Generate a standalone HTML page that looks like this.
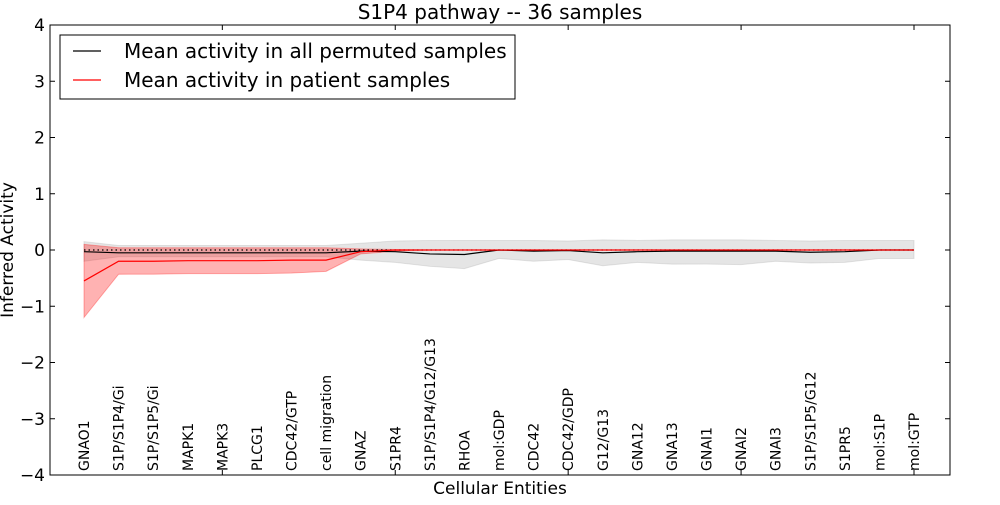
<!DOCTYPE html>
<html><head><meta charset="utf-8"><style>
body{margin:0;background:#fff;width:1000px;height:500px;overflow:hidden}
text{font-family:"DejaVu Sans","Liberation Sans",sans-serif}
</style></head><body>
<svg id="chart" width="1000" height="500" xmlns="http://www.w3.org/2000/svg"></svg>
<script>
const categories=["GNAO1","S1P/S1P4/Gi","S1P/S1P5/Gi","MAPK1","MAPK3","PLCG1","CDC42/GTP","cell migration","GNAZ","S1PR4","S1P/S1P4/G12/G13","RHOA","mol:GDP","CDC42","CDC42/GDP","G12/G13","GNA12","GNA13","GNAI1","GNAI2","GNAI3","S1P/S1P5/G12","S1PR5","mol:S1P","mol:GTP"];
const permMean=[-0.03,-0.05,-0.05,-0.05,-0.05,-0.05,-0.05,-0.05,-0.02,-0.03,-0.07,-0.08,0,-0.02,-0.01,-0.05,-0.03,-0.02,-0.02,-0.02,-0.02,-0.04,-0.03,0,0];
const permUpper=[0.15,0.08,0.08,0.08,0.08,0.08,0.08,0.08,0.12,0.16,0.17,0.17,0.17,0.17,0.16,0.18,0.17,0.18,0.18,0.18,0.17,0.16,0.17,0.17,0.17];
const permLower=[-0.2,-0.12,-0.12,-0.12,-0.12,-0.12,-0.12,-0.12,-0.18,-0.22,-0.29,-0.33,-0.15,-0.2,-0.17,-0.28,-0.22,-0.25,-0.25,-0.26,-0.2,-0.23,-0.22,-0.15,-0.15];
const patMean=[-0.55,-0.2,-0.2,-0.19,-0.19,-0.19,-0.18,-0.18,-0.03,0,0,0,0,0,0,0,0,0,0,0,0,0,0,0,0];
const patUpper=[0.1,0.04,0.04,0.04,0.04,0.04,0.04,0.04,0.02,0.01,0,0,0,0,0,0,0,0,0,0,0,0,0,0,0];
const patLower=[-1.2,-0.43,-0.43,-0.42,-0.42,-0.42,-0.41,-0.38,-0.07,-0.02,0,0,0,0,0,0,0,0,0,0,0,0,0,0,0];
const yTicks=[-4,-3,-2,-1,0,1,2,3,4];
const NS="http://www.w3.org/2000/svg",svg=document.getElementById('chart');
const L=50,R=950,T=25,B=475;
const x=i=>84+i*(914-84)/(categories.length-1);
const y=v=>250-v*56.25;
function el(t,a,p){const e=document.createElementNS(NS,t);for(const k in a)e.setAttribute(k,a[k]);(p||svg).appendChild(e);return e;}
function band(up,lo,fill,op,name){let d=up.map((v,i)=>(i?'L':'M')+x(i)+','+y(v)).join('')+lo.map((v,i)=>i).reverse().map(i=>'L'+x(i)+','+y(lo[i])).join('')+'Z';
const p=el('path',{d:d,fill:fill,'fill-opacity':op,stroke:fill,'stroke-opacity':op,'stroke-width':1});

}
function line(vals,col,name,dash){const p=el('path',{d:vals.map((v,i)=>(i?'L':'M')+x(i)+','+y(v)).join(''),fill:'none',stroke:col,'stroke-width':1.2});
if(dash){p.setAttribute('stroke-dasharray','1.5,3');}

}
band(permUpper,permLower,'#aaaaaa',0.3,'permuted-range-band');
band(patUpper,patLower,'#ff0000',0.3,'patient-range-band');
line(categories.map(()=>0),'#000','zero-dotted-line',true);
line(permMean,'#000','permuted-mean-line');
line(patMean,'#ff0000','patient-mean-line');
const fr=el('rect',{x:L,y:T,width:R-L,height:B-T,fill:'none',stroke:'#000','stroke-width':1});


yTicks.forEach(v=>{el('line',{x1:L,x2:L+5,y1:y(v),y2:y(v),stroke:'#000'});el('line',{x1:R,x2:R-5,y1:y(v),y2:y(v),stroke:'#000'});
const t=el('text',{x:L-5,y:y(v)+6,'text-anchor':'end','font-size':17});t.textContent=(v<0?'\u2212':'')+Math.abs(v);

});
categories.forEach((c,i)=>{if(i%5===4){el('line',{x1:x(i),x2:x(i),y1:B,y2:B-5,stroke:'#000'});el('line',{x1:x(i),x2:x(i),y1:T,y2:T+5,stroke:'#000'});}
const t=el('text',{transform:`translate(${x(i)+5},471) rotate(-90)`,'font-size':14});t.textContent=c;

});
const ti=el('text',{x:500,y:19,'text-anchor':'middle','font-size':20});ti.textContent='S1P4 pathway -- 36 samples';


const xt=el('text',{x:500,y:494,'text-anchor':'middle','font-size':17});xt.textContent='Cellular Entities';


const yt=el('text',{transform:'translate(13,250) rotate(-90)','text-anchor':'middle','font-size':17});yt.textContent='Inferred Activity';


const lg=el('g',{});


el('rect',{x:60,y:35,width:455,height:64,fill:'#fff',stroke:'#000'},lg);
el('line',{x1:73,x2:101,y1:51,y2:51,stroke:'#000','stroke-width':1.2},lg);
el('line',{x1:73,x2:101,y1:80,y2:80,stroke:'#f00','stroke-width':1.2},lg);
const l1=el('text',{x:124,y:58,'font-size':20},lg);l1.textContent='Mean activity in all permuted samples';


const l2=el('text',{x:124,y:87,'font-size':20},lg);l2.textContent='Mean activity in patient samples';


</script>
</body></html>
